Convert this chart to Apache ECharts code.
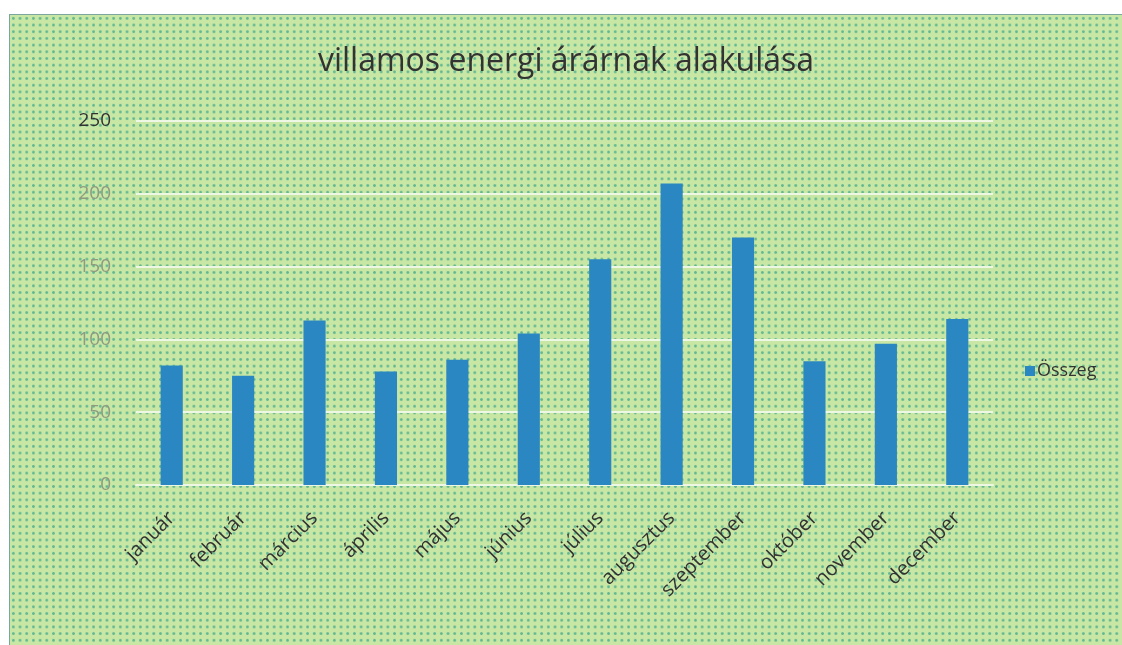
<!DOCTYPE html>
<html>
<head>
<meta charset="utf-8">
<script src="https://cdn.jsdelivr.net/npm/echarts@6/dist/echarts.min.js"></script>
<style>
  html, body { margin: 0; padding: 0; background: #fff; }
  #frame {
    position: absolute; left: 9px; top: 14px; width: 1112px; height: 630px;
    border: 1px solid #7aa6a0;
    background: radial-gradient(circle, #62b893 1.1px, transparent 1.6px) 0 0 / 6.7px 6.7px, #c9e7a4;
  }
  #chart { width: 1112px; height: 630px; }
</style>
</head>
<body>
<div id="frame"><div id="chart"></div></div>
<script>
// havi adatok
const months = ['január', 'február', 'március', 'április', 'május', 'június',
  'július', 'augusztus', 'szeptember', 'október', 'november', 'december'];
const osszeg = [82, 75, 113, 78, 86, 104, 155, 207, 170, 85, 97, 114];
const yTicks = [0, 50, 100, 150, 200, 250];

const font = "'Open Sans', 'Noto Sans', sans-serif";
let chart = echarts.init(document.getElementById('chart'));
chart.setOption({
  animation: false,
  title: {
    text: 'villamos energi árárnak alakulása',
    left: 'center',
    top: 26,
    textStyle: { fontFamily: font, fontSize: 32, fontWeight: 'normal', color: '#333' }
  },
  legend: {
    data: ['Összeg'],
    orient: 'vertical',
    left: 1010,
    top: 342,
    itemWidth: 10,
    itemHeight: 10,
    itemGap: 4,
    icon: 'rect',
    textStyle: { fontFamily: font, fontSize: 18, color: '#333', padding: [0, 0, 0, -3] }
  },
  grid: { left: 126, right: 129, top: 106, bottom: 160 },
  xAxis: {
    type: 'category',
    data: months,
    axisLine: { lineStyle: { color: '#eef6e4', width: 2 } },
    axisTick: { show: false },
    axisLabel: {
      rotate: 45,
      interval: 0,
      margin: 30,
      fontFamily: font,
      fontSize: 20,
      color: '#333'
    }
  },
  yAxis: {
    type: 'value',
    min: yTicks[0],
    max: yTicks[yTicks.length - 1],
    interval: 50,
    axisLine: { show: false },
    axisTick: { show: false },
    splitLine: { lineStyle: { color: '#eef6e4', width: 2 } },
    axisLabel: {
      margin: 25,
      fontFamily: font,
      fontSize: 19,
      formatter: function (v) { return v === 250 ? '{d|' + v + '}' : '{l|' + v + '}'; },
      rich: {
        d: { color: '#333', fontFamily: font, fontSize: 19 },
        l: { color: '#8f9a80', fontFamily: font, fontSize: 19 }
      }
    }
  },
  series: [{
    name: 'Összeg',
    type: 'bar',
    data: osszeg,
    barWidth: '31%',
    itemStyle: { color: '#2b87c2' }
  }]
});
</script>
</body>
</html>
